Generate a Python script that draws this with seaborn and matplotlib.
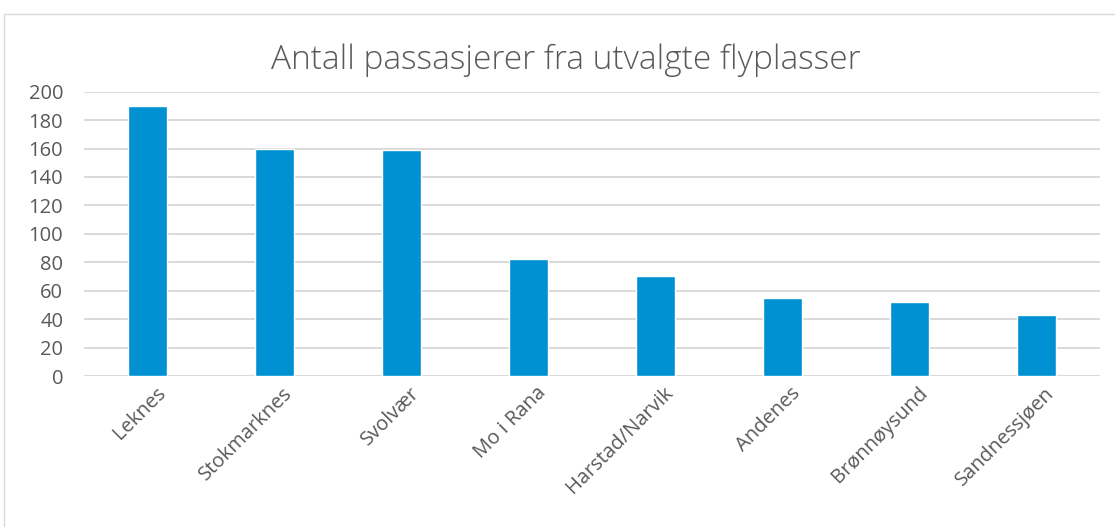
import matplotlib
matplotlib.use("Agg")
import matplotlib.pyplot as plt
import matplotlib.patches as mpatches
import matplotlib.transforms as mtransforms
import seaborn as sns
import pandas as pd

# values
airports = ["Leknes", "Stokmarknes", "Svolvær", "Mo i Rana",
            "Harstad/Narvik", "Andenes", "Brønnøysund", "Sandnessjøen"]
passengers = [190, 160, 159, 82, 70, 55, 52, 43]
yticks = list(range(0, 201, 20))

df = pd.DataFrame({"airport": airports, "passengers": passengers})

sns.set_style("white")
plt.rcParams["font.family"] = ["Open Sans", "DejaVu Sans"]

W, H = 1115, 527
fig = plt.figure(figsize=(W / 100, H / 100), dpi=100)
ax = fig.add_axes([84 / W, (H - 376) / H, (1100 - 84) / W, (376 - 91.7) / H])

sns.barplot(data=df, x="airport", y="passengers", color="#0091D2",
            width=0.31, saturation=1, ax=ax, zorder=3)

ax.set_ylim(0, 200)
ax.set_xlim(-0.5, len(airports) - 0.5)
ax.set_yticks(yticks)
ax.yaxis.grid(True, color="#D9D9D9", linewidth=1.4, zorder=0)
ax.set_axisbelow(True)
for s in ax.spines.values():
    s.set_visible(False)
ax.set_xlabel("")
ax.set_ylabel("")
ax.tick_params(axis="both", length=0, labelsize=14.5, labelcolor="#595959")
ax.tick_params(axis="y", pad=15)
ax.tick_params(axis="x", pad=5)
shift = mtransforms.ScaledTranslation(8 / 100, 0, fig.dpi_scale_trans)
for lbl in ax.get_xticklabels():
    lbl.set_rotation(45)
    lbl.set_ha("right")
    lbl.set_rotation_mode("anchor")
    lbl.set_transform(lbl.get_transform() + shift)

fig.text(566 / W, 1 - 60 / H, "Antall passasjerer fra utvalgte flyplasser",
         ha="center", va="center", fontsize=24, color="#595959",
         fontweight="light")

# outer chart frame
fig.patches.append(mpatches.Rectangle((4 / W, -0.1), 1.2, 1 - 14 / H + 0.1,
                                      transform=fig.transFigure, fill=False,
                                      edgecolor="#D9D9D9", linewidth=1))

fig.savefig("out.png", dpi=100)
